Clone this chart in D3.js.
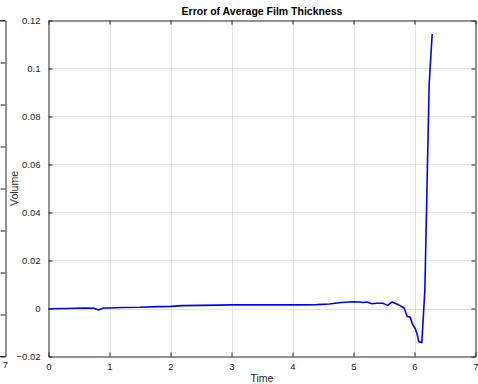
<!DOCTYPE html>
<html>
<head>
<meta charset="utf-8">
<script src="https://cdn.jsdelivr.net/npm/d3@7"></script>
<style>
  body { margin: 0; background: #fff; }
  svg { display: block; font-family: "Liberation Sans", Arial, Helvetica, sans-serif; }
</style>
</head>
<body>
<div id="chart"></div>
<script>
// data
var time = [0, 0.3, 0.6, 0.75, 0.82, 0.9, 1.0, 1.2, 1.5, 1.8, 2.0, 2.2, 2.5, 2.8, 3.0,
            3.5, 4.0, 4.4, 4.6, 4.8, 5.0, 5.1, 5.16, 5.22, 5.3, 5.38, 5.48, 5.56, 5.63,
            5.71, 5.77, 5.83, 5.88, 5.93, 5.97, 6.01, 6.04, 6.07, 6.12, 6.17, 6.24, 6.29];
var errorValues = [-0.0001, 0.0000, 0.0002, 0.0001, -0.0006, 0.0002, 0.0002, 0.0004, 0.0005,
                   0.0008, 0.0009, 0.0012, 0.0013, 0.0014, 0.0015, 0.0015, 0.0015, 0.0016,
                   0.0019, 0.0025, 0.0028, 0.0027, 0.0025, 0.0027, 0.0020, 0.0022, 0.0022,
                   0.0013, 0.0027, 0.0019, 0.0011, 0.0002, -0.0033, -0.0036, -0.0068, -0.0082,
                   -0.0103, -0.0138, -0.0142, 0.0078, 0.0933, 0.1144];
var xTicks = [0, 1, 2, 3, 4, 5, 6, 7];
var yTicks = [-0.02, 0, 0.02, 0.04, 0.06, 0.08, 0.1, 0.12];
var leftAxisTicks = [0, 1, 2, 3, 4, 5, 6, 7, 8];
var titleText = 'Error of Average Film Thickness';
var xLabel = 'Time';
var yLabel = 'Volume';

var width = 478,
    height = 384;
var axisColor = '#262626';
var margin = {left: 48.5, right: 475.5, top: 20.5, bottom: 356.5};

var svg = d3.select('#chart').append('svg')
    .attr('width', width)
    .attr('height', height);

var x = d3.scaleLinear().domain([0, 7]).range([margin.left, margin.right]);
var y = d3.scaleLinear().domain([-0.02, 0.12]).range([margin.bottom, margin.top]);

// neighbouring subplot, only its right edge is visible
var leftY = d3.scaleLinear().domain([0, 8]).range([margin.bottom, margin.top]);
var leftPanel = svg.append('g');
leftPanel.append('g')
    .attr('transform', 'translate(5.5,0)')
    .call(d3.axisLeft(leftY).tickValues(leftAxisTicks).tickSize(5).tickSizeOuter(0).tickFormat(''))
    .call(function(g){
      g.select('.domain').attr('stroke', axisColor);
      g.selectAll('.tick line').attr('stroke', axisColor);
    });
leftPanel.append('line')
    .attr('x1', 0).attr('x2', 5.5)
    .attr('y1', margin.top).attr('y2', margin.top)
    .attr('stroke', axisColor);
leftPanel.append('line')
    .attr('x1', 0).attr('x2', 5.5)
    .attr('y1', margin.bottom).attr('y2', margin.bottom)
    .attr('stroke', axisColor);
leftPanel.append('text')
    .attr('x', 5.5)
    .attr('y', 368)
    .attr('text-anchor', 'middle')
    .style('font-size', '9.5px')
    .style('fill', axisColor)
    .text('7');

// grid
svg.append('g').selectAll('line.vgrid')
    .data(xTicks.slice(1, -1))
    .enter().append('line')
    .attr('x1', function(d){ return Math.round(x(d)) + 0.5; })
    .attr('x2', function(d){ return Math.round(x(d)) + 0.5; })
    .attr('y1', margin.top).attr('y2', margin.bottom)
    .attr('stroke', '#e3e3e3');
svg.append('g').selectAll('line.hgrid')
    .data(yTicks.slice(1, -1))
    .enter().append('line')
    .attr('y1', function(d){ return Math.round(y(d)) + 0.5; })
    .attr('y2', function(d){ return Math.round(y(d)) + 0.5; })
    .attr('x1', margin.left).attr('x2', margin.right)
    .attr('stroke', '#e3e3e3');

// the line
svg.append('path')
    .datum(time.map(function(t, i){ return [t, errorValues[i]]; }))
    .attr('fill', 'none')
    .attr('stroke', '#0000ff')
    .attr('stroke-width', 1.6)
    .attr('stroke-linejoin', 'round')
    .attr('d', d3.line()
      .x(function(d){ return x(d[0]); })
      .y(function(d){ return y(d[1]); })
    );

// box axes, ticks pointing inward
function styleAxis(g){
  g.select('.domain').attr('stroke', axisColor);
  g.selectAll('.tick line').attr('stroke', axisColor);
  g.selectAll('.tick text').attr('fill', axisColor).style('font-size', '9.5px');
}
svg.append('g')
    .attr('transform', 'translate(0,' + margin.bottom + ')')
    .call(d3.axisBottom(x).tickValues(xTicks).tickSize(-4).tickSizeOuter(0).tickPadding(7).tickFormat(d3.format('d')))
    .call(styleAxis);
svg.append('g')
    .attr('transform', 'translate(0,' + margin.top + ')')
    .call(d3.axisTop(x).tickValues(xTicks).tickSize(-4).tickSizeOuter(0).tickFormat(''))
    .call(styleAxis);
svg.append('g')
    .attr('transform', 'translate(' + margin.left + ',0)')
    .call(d3.axisLeft(y).tickValues(yTicks).tickSize(-4).tickSizeOuter(0).tickPadding(8)
      .tickFormat(function(d){ return d3.format('~g')(+d.toFixed(2)); }))
    .call(styleAxis);
svg.append('g')
    .attr('transform', 'translate(' + margin.right + ',0)')
    .call(d3.axisRight(y).tickValues(yTicks).tickSize(-4).tickSizeOuter(0).tickFormat(''))
    .call(styleAxis);

// texts
svg.append('text')
    .attr('x', (margin.left + margin.right) / 2)
    .attr('y', 15)
    .attr('text-anchor', 'middle')
    .style('font-size', '10.5px')
    .style('font-weight', 'bold')
    .style('fill', '#000')
    .text(titleText);
svg.append('text')
    .attr('x', (margin.left + margin.right) / 2)
    .attr('y', 382)
    .attr('text-anchor', 'middle')
    .style('font-size', '10.5px')
    .style('fill', axisColor)
    .text(xLabel);
svg.append('text')
    .attr('transform', 'translate(18,' + ((margin.top + margin.bottom) / 2) + ') rotate(-90)')
    .attr('text-anchor', 'middle')
    .style('font-size', '10.5px')
    .style('fill', axisColor)
    .text(yLabel);
</script>
</body>
</html>
